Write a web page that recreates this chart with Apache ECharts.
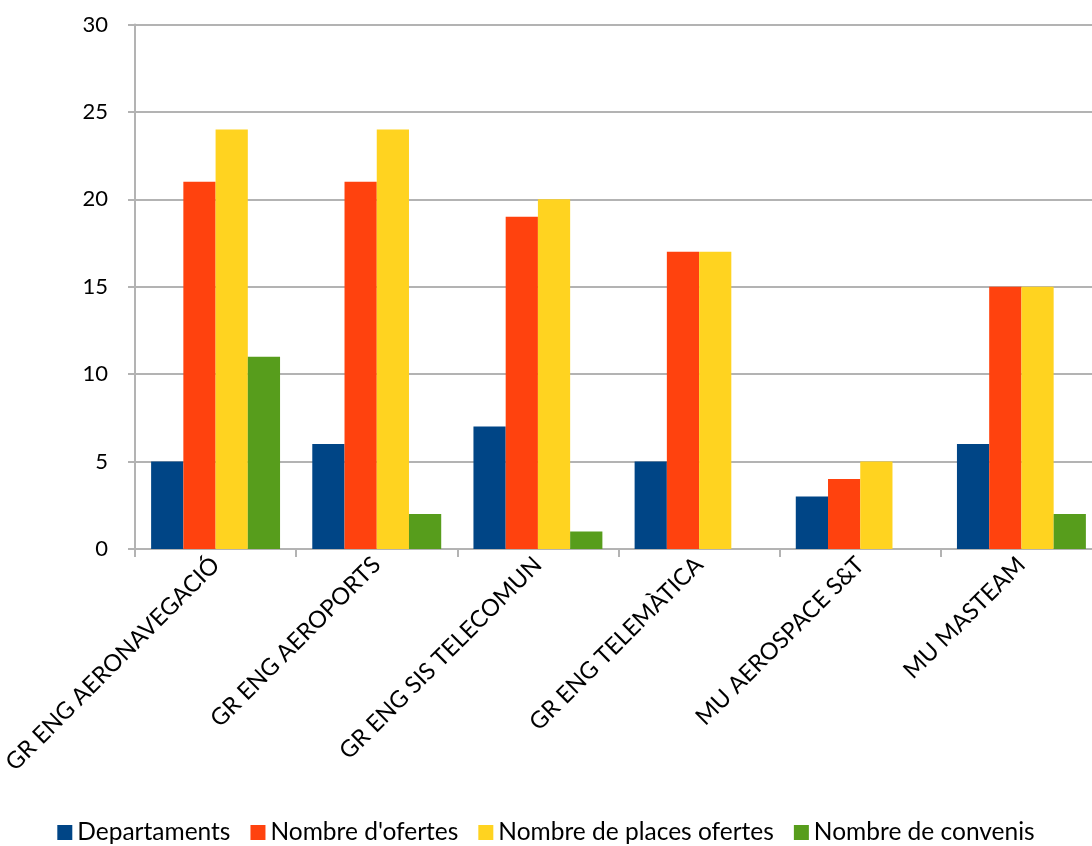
<!DOCTYPE html>
<html><head><meta charset="utf-8">
<script src="https://cdn.jsdelivr.net/npm/echarts@6/dist/echarts.min.js"></script>
<style>html,body{margin:0;padding:0;background:#fff}#c{width:1092px;height:846px}</style>
</head><body><div id="c"></div>
<script>
const categories = ["GR ENG AERONAVEGACIÓ","GR ENG AEROPORTS","GR ENG SIS TELECOMUN","GR ENG TELEMÀTICA","MU AEROSPACE S&T","MU MASTEAM"];
const seriesNames = ["Departaments","Nombre d'ofertes","Nombre de places ofertes","Nombre de convenis"];
const departaments = [5,6,7,5,3,6];
const ofertes = [21,21,19,17,4,15];
const places = [24,24,20,17,5,15];
const convenis = [11,2,1,0,0,2];
const colors = ["#004586","#ff420e","#ffd320","#579d1c"];
const FONT = "Lato, 'Open Sans', sans-serif";
const data = [departaments, ofertes, places, convenis];
const chart = echarts.init(document.getElementById('c'), null, {renderer:'canvas'});
chart.setOption({
  animation:false,
  color: colors,
  textStyle:{fontFamily:FONT},
  grid:{left:135, top:24.5, right:-10, bottom:297, containLabel:false, outerBoundsMode:'none'},
  legend:{top:815, left:'center', itemWidth:15, itemHeight:15, itemGap:20, itemTextGap:7, icon:'rect',
    textStyle:{fontSize:24.5, color:'#000', fontFamily:FONT}, data:seriesNames},
  xAxis:{type:'category', data:categories,
    axisLine:{lineStyle:{color:'#b3b3b3', width:2}},
    axisTick:{show:true, length:8, lineStyle:{color:'#b3b3b3', width:2}},
    axisLabel:{rotate:45, fontSize:23.5, color:'#000', margin:12, interval:0, fontFamily:FONT}},
  yAxis:{type:'value', min:0, max:30, interval:5,
    axisLine:{show:true, lineStyle:{color:'#b3b3b3', width:2}},
    axisTick:{show:true, length:7, lineStyle:{color:'#b3b3b3', width:2}},
    splitLine:{lineStyle:{color:'#b3b3b3', width:2}},
    axisLabel:{fontSize:22, color:'#000', margin:27, fontFamily:FONT}},
  series: seriesNames.map((n,i)=>({name:n, type:'bar', data:data[i], barGap:'0%', barCategoryGap:'20%'}))
});
</script></body></html>
